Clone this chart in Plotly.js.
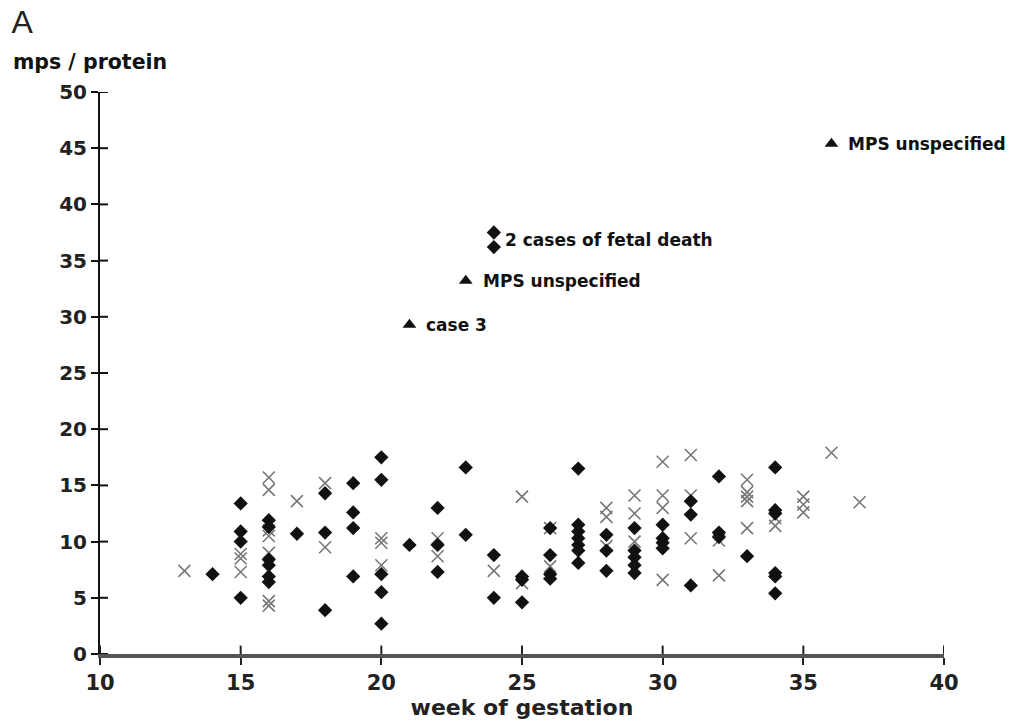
<!DOCTYPE html>
<html>
<head>
<meta charset="utf-8">
<script src="https://cdn.plot.ly/plotly-3.0.1.min.js"></script>
<style>html,body{margin:0;padding:0;background:#fff;}#chart{width:1010px;height:725px;}</style>
</head>
<body>
<div id="chart"></div>
<script>
// MPS-positive / normal diamonds (filled)
const diamondWeeks = [14, 15,15,15,15, 16,16,16,16,16,16, 17, 18,18,18, 19,19,19,19,
  20,20,20,20,20, 21, 22,22,22, 23,23, 24,24, 25,25,25, 26,26,26,26,
  27,27,27,27,27,27,27, 28,28,28, 29,29,29,29,29, 30,30,30,30,
  31,31,31, 32,32,32, 33, 34,34,34,34,34,34];
const diamondValues = [7.1, 13.4,10.9,10.0,5.0, 11.9,11.3,8.4,7.9,6.9,6.4, 10.7, 14.3,10.8,3.9, 15.2,12.6,11.2,6.9,
  17.5,15.5,7.1,5.5,2.7, 9.7, 13.0,9.7,7.3, 16.6,10.6, 8.8,5.0, 6.9,6.6,4.6, 11.2,8.8,7.1,6.7,
  16.5,11.5,10.9,10.3,9.7,9.2,8.1, 10.6,9.2,7.4, 11.2,9.2,8.6,7.9,7.2, 11.5,10.3,9.9,9.4,
  13.6,12.4,6.1, 15.8,10.8,10.4, 8.7, 16.6,12.8,12.5,7.2,6.9,5.4];

// Crosses (open x)
const crossWeeks = [13, 15,15,15, 16,16,16,16,16,16,16, 17, 18,18, 20,20,20, 22,22, 24, 25,25, 26,26,
  28,28,28, 29,29,29, 30,30,30,30, 31,31,31, 32,32, 33,33,33,33,33, 34,34, 35,35,35, 36, 37];
const crossValues = [7.4, 8.9,8.5,7.3, 15.7,14.6,11.0,10.5,9.0,4.7,4.3, 13.6, 15.2,9.5, 10.3,9.9,7.9, 10.3,8.7, 7.4, 14.0,6.3, 11.2,7.8,
  13.0,12.2,9.6, 14.1,12.5,10.0, 17.1,14.1,13.0,6.6, 17.7,14.1,10.3, 10.1,7.0, 15.5,14.4,14.0,13.6,11.2, 12.1,11.4, 14.0,13.3,12.6, 17.9, 13.5];

// Highlighted cases
const specialDiamondWeeks = [24, 24];
const specialDiamondValues = [37.5, 36.2];
const triangleWeeks = [21, 23, 36];
const triangleValues = [29.3, 33.2, 45.4];
const triangleLabels = ['case 3', 'MPS unspecified', 'MPS unspecified'];
const fetalDeathLabel = '2 cases of fetal death';

const xTicks = [10, 15, 20, 25, 30, 35, 40];
const yTicks = [0, 5, 10, 15, 20, 25, 30, 35, 40, 45, 50];

const FONT = 'DejaVu Sans, Verdana, sans-serif';
const THIN = 'Liberation Sans, Arial, sans-serif';

const traces = [
  {
    x: crossWeeks, y: crossValues, type: 'scatter', mode: 'markers',
    marker: {symbol: 'x-thin-open', size: 12, line: {color: '#777', width: 1.6}, color: '#777'},
    cliponaxis: false, showlegend: false, hoverinfo: 'x+y'
  },
  {
    x: diamondWeeks.concat(specialDiamondWeeks), y: diamondValues.concat(specialDiamondValues),
    type: 'scatter', mode: 'markers',
    marker: {symbol: 'diamond', size: 11, color: '#111'},
    cliponaxis: false, showlegend: false, hoverinfo: 'x+y'
  },
  {
    x: triangleWeeks, y: triangleValues, type: 'scatter', mode: 'markers',
    marker: {symbol: 'triangle-up', size: 12, color: '#111'},
    cliponaxis: false, showlegend: false, hoverinfo: 'x+y'
  }
];

const annFont = {family: FONT, size: 17, color: '#111', weight: 'bold'};
const annotations = triangleLabels.map((t, i) => ({
  x: triangleWeeks[i], y: triangleValues[i], xref: 'x', yref: 'y',
  text: t, showarrow: false, xanchor: 'left', yanchor: 'middle', xshift: 15,
  font: annFont
}));
annotations.push({
  x: specialDiamondWeeks[0], y: (specialDiamondValues[0] + specialDiamondValues[1]) / 2,
  xref: 'x', yref: 'y', text: fetalDeathLabel, showarrow: false,
  xanchor: 'left', yanchor: 'middle', xshift: 9,
  font: annFont
});
annotations.push({
  x: -0.106, y: 1.053, xref: 'paper', yref: 'paper', text: 'mps / protein',
  showarrow: false, xanchor: 'left', yanchor: 'middle',
  font: {family: FONT, size: 20.5, color: '#111', weight: 'bold'}
});

// inner halves of the crossing tick marks
const shapes = [];
xTicks.forEach(v => shapes.push({
  type: 'line', xref: 'x', yref: 'paper', x0: v, x1: v, y0: 0, y1: 0.015,
  layer: 'above', line: {color: '#222', width: 2}
}));
yTicks.forEach(v => shapes.push({
  type: 'line', yref: 'y', xref: 'paper', y0: v, y1: v, x0: 0, x1: 0.0095,
  layer: 'above', line: {color: '#111', width: 2}
}));

const layout = {
  width: 1010, height: 725,
  margin: {l: 100, r: 66, t: 92, b: 71},
  paper_bgcolor: '#fff', plot_bgcolor: '#fff',
  title: {text: 'A', xref: 'container', yref: 'container', x: 0.0115, xanchor: 'left', y: 0.986, yanchor: 'top',
    font: {family: THIN, size: 32, color: '#222'}},
  xaxis: {
    range: [10, 40], tickvals: xTicks, ticktext: xTicks.map(String),
    showgrid: false, zeroline: false, showline: true, linecolor: '#555', linewidth: 4,
    ticks: 'outside', ticklen: 7, tickwidth: 2, tickcolor: '#222',
    tickfont: {family: FONT, size: 21, color: '#222', weight: 'bold'},
    title: {text: 'week of gestation', standoff: 6, font: {family: FONT, size: 22, color: '#222', weight: 'bold'}},
    fixedrange: true
  },
  yaxis: {
    range: [0, 50], tickvals: yTicks, ticktext: yTicks.map(String),
    showgrid: false, zeroline: false, showline: true, linecolor: '#111', linewidth: 2,
    ticks: 'outside', ticklen: 7, tickwidth: 2, tickcolor: '#111',
    tickfont: {family: FONT, size: 20, color: '#222', weight: 'bold'},
    fixedrange: true
  },
  shapes: shapes,
  annotations: annotations,
  showlegend: false
};

Plotly.newPlot('chart', traces, layout, {displayModeBar: false, staticPlot: true});
</script>
</body>
</html>
